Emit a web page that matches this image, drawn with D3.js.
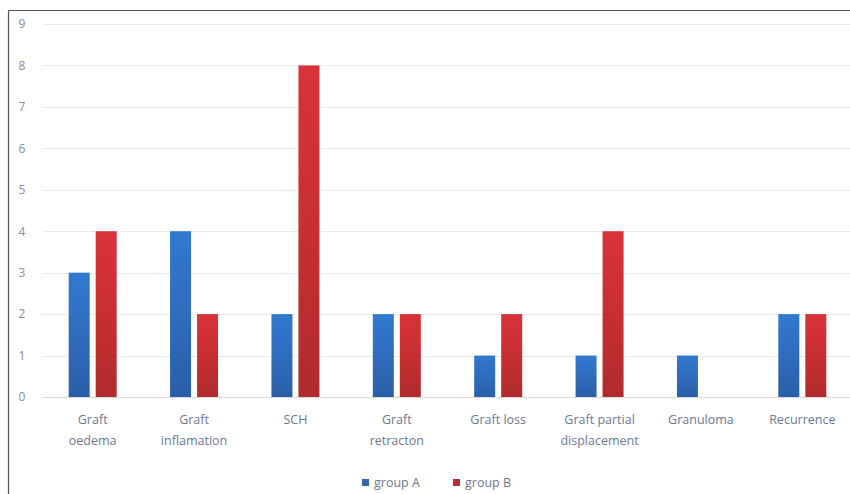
<!DOCTYPE html>
<html><head><meta charset="utf-8">
<script src="https://cdn.jsdelivr.net/npm/d3@7"></script>
<style>body{margin:0;background:#fff;} svg{display:block;}</style>
</head><body>
<script>
const categories = [["Graft","oedema"],["Graft","inflamation"],["SCH"],["Graft","retracton"],["Graft loss"],["Graft partial","displacement"],["Granuloma"],["Recurrence"]];
const seriesNames = ["group A","group B"];
const groupA = [3,4,2,2,1,1,1,2];
const groupB = [4,2,8,2,2,4,0,2];
const yTicks = [0,1,2,3,4,5,6,7,8,9];

const W = 850, H = 494;
const svg = d3.select("body").append("svg").attr("width", W).attr("height", H);
const defs = svg.append("defs");
function grad(id, c1, c2, c3){
  const g = defs.append("linearGradient").attr("id", id).attr("x1",0).attr("x2",0).attr("y1",0).attr("y2",1);
  g.append("stop").attr("offset","0%").attr("stop-color",c1);
  g.append("stop").attr("offset","50%").attr("stop-color",c2);
  g.append("stop").attr("offset","100%").attr("stop-color",c3);
}
grad("gA","#3179d0","#2f6cbd","#2b5ea8");
grad("gB","#d9323a","#c72f33","#b02b2d");
const fills = ["url(#gA)","url(#gB)"];

// frame
svg.append("path").attr("d","M8.5,494 L8.5,10.5 L850,10.5").attr("fill","none").attr("stroke","#555").attr("stroke-width",1.2);

const x0 = 42, x1 = 853, yTop = 24, yBot = 397;
const x = d3.scaleBand().domain(d3.range(categories.length)).range([x0, x1]).paddingInner(0).paddingOuter(0);
const y = d3.scaleLinear().domain([0, 9]).range([yBot, yTop]);

// grid
svg.append("g").selectAll("line").data(yTicks).join("line")
  .attr("x1", x0).attr("x2", W).attr("y1", d => Math.round(y(d))+0.5).attr("y2", d => Math.round(y(d))+0.5)
  .attr("stroke", d => d===0 ? "#d9d9d9" : "#ebebeb").attr("stroke-width",1);

// y axis labels
const yAxis = d3.axisLeft(y).tickValues(yTicks).tickSize(0).tickPadding(0);
const ya = svg.append("g").attr("transform","translate(22,0)").call(yAxis);
ya.select(".domain").remove();
ya.selectAll("text").attr("font-family","Open Sans, sans-serif").attr("font-size",12).attr("fill","#8c8c8c").attr("text-anchor","middle");

// bars
const barW = 21, gap = 6;
const series = [groupA, groupB];
series.forEach((vals, s) => {
  svg.append("g").selectAll("rect").data(vals).join("rect")
    .attr("x", (d,i) => x(i) + x.bandwidth()/2 - (barW*2+gap)/2 + s*(barW+gap))
    .attr("width", barW)
    .attr("y", d => y(d))
    .attr("height", d => y(0) - y(d))
    .attr("fill", fills[s]);
});

// x labels
const xl = svg.append("g");
categories.forEach((lines, i) => {
  const t = xl.append("text").attr("x", x(i)+x.bandwidth()/2).attr("y", 424)
    .attr("text-anchor","middle").attr("font-family","Open Sans, sans-serif").attr("font-size",12.5).attr("fill","#6d7890");
  lines.forEach((ln, k) => t.append("tspan").attr("x", x(i)+x.bandwidth()/2).attr("dy", k===0?0:21).text(ln));
});

// legend
const leg = svg.append("g");
const legX = [362, 453];
seriesNames.forEach((n, s) => {
  leg.append("rect").attr("x", legX[s]).attr("y", 479).attr("width",7).attr("height",7).attr("fill", s===0?"#3a66a8":"#b83036");
  leg.append("text").attr("x", legX[s]+12).attr("y", 487).attr("font-family","Open Sans, sans-serif").attr("font-size",12.5).attr("fill","#6d7890").text(n);
});
</script>
</body></html>
